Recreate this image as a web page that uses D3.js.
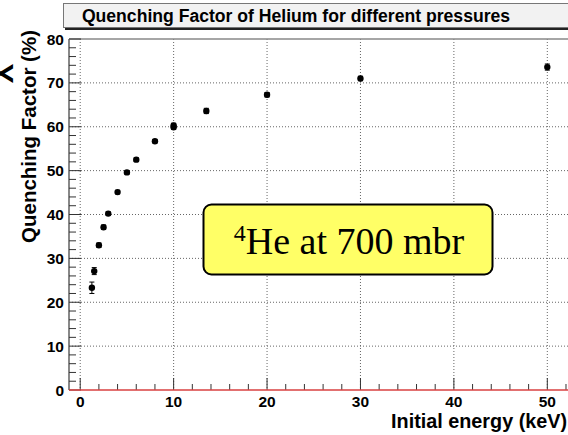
<!DOCTYPE html>
<html><head><meta charset="utf-8">
<script src="https://cdn.jsdelivr.net/npm/d3@7"></script>
<style>
html,body{margin:0;padding:0;background:#fff;overflow:hidden;}
svg{display:block;}
</style></head>
<body>
<svg id="chart" width="568" height="435"></svg>
<script>
// ---- data ----
const energies = [1.25, 1.5, 2, 2.5, 3, 4, 5, 6, 8, 10, 10, 13.5, 20, 30, 50];
const quenching = [23.3, 27.1, 33.0, 37.1, 40.2, 45.1, 49.6, 52.5, 56.7, 59.9, 60.3, 63.6, 67.3, 71.0, 73.6];
const errors = [1.3, 0.8, 0.5, 0.5, 0.4, 0.4, 0.4, 0.4, 0.4, 0.5, 0.5, 0.6, 0.5, 0.5, 0.7];
const xTickLabels = [0, 10, 20, 30, 40, 50];
const yTickLabels = [0, 10, 20, 30, 40, 50, 60, 70, 80];
const titleText = "Quenching Factor of Helium for different pressures";
const xTitle = "Initial energy (keV)";
const yTitle = "Quenching Factor (%)";

const svg = d3.select("#chart");
const L = 69, R = 580, T = 39, B = 390;
const x = d3.scaleLinear().domain([-1.2, 53.5]).range([L, R]);
const y = d3.scaleLinear().domain([0, 80]).range([B, T]);
const sans = "'Liberation Sans', Arial, Helvetica, sans-serif";

// title box
svg.append("rect").attr("x", 65).attr("y", 6).attr("width", 520).attr("height", 24).attr("fill", "#222");
svg.append("rect").attr("x", 63.5).attr("y", 3.5).attr("width", 520).attr("height", 24)
  .attr("fill", "#f2f2f2").attr("stroke", "#777").attr("stroke-width", 1);
svg.append("text").attr("x", 296).attr("y", 21.5).attr("text-anchor", "middle")
  .attr("font-family", sans).attr("font-weight", "bold").attr("font-size", 17.6)
  .attr("fill", "#000").text(titleText);

// grid
const g = svg.append("g");
g.selectAll(".vg").data(xTickLabels).enter().append("line")
  .attr("x1", d => x(d)).attr("x2", d => x(d)).attr("y1", T).attr("y2", B)
  .attr("stroke", "#666").attr("stroke-width", 1).attr("stroke-dasharray", "1,2");
g.selectAll(".hg").data(yTickLabels.filter(d => d > 0 && d < 80)).enter().append("line")
  .attr("x1", L).attr("x2", R).attr("y1", d => y(d)).attr("y2", d => y(d))
  .attr("stroke", "#666").attr("stroke-width", 1).attr("stroke-dasharray", "1,2");

// frame
svg.append("line").attr("x1", L).attr("x2", R).attr("y1", T).attr("y2", T).attr("stroke", "#888").attr("stroke-width", 1.5);
svg.append("line").attr("x1", L).attr("x2", L).attr("y1", T).attr("y2", B).attr("stroke", "#888").attr("stroke-width", 2);

// y ticks
const yMinor = d3.range(0, 80.1, 2);
svg.selectAll(".yt").data(yMinor).enter().append("line")
  .attr("x1", L).attr("x2", d => L + (d % 10 === 0 ? 12 : 7))
  .attr("y1", d => y(d)).attr("y2", d => y(d))
  .attr("stroke", "#333").attr("stroke-width", 1);
// x ticks
const xMinor = d3.range(0, 53, 2);
svg.selectAll(".xt").data(xMinor).enter().append("line")
  .attr("x1", d => x(d)).attr("x2", d => x(d))
  .attr("y1", B).attr("y2", d => B - (d % 10 === 0 ? 12 : 6))
  .attr("stroke", "#333").attr("stroke-width", 1);

// bottom axis line (red)
svg.append("line").attr("x1", L).attr("x2", R).attr("y1", B).attr("y2", B).attr("stroke", "#d94040").attr("stroke-width", 1.5);

// tick labels
svg.selectAll(".yl").data(yTickLabels).enter().append("text")
  .attr("x", 64).attr("y", d => y(d)).attr("dy", "0.36em").attr("text-anchor", "end")
  .attr("font-family", sans).attr("font-weight", "bold").attr("font-size", 15.5)
  .text(d => d);
svg.selectAll(".xl").data(xTickLabels).enter().append("text")
  .attr("x", d => x(d)).attr("y", 407).attr("text-anchor", "middle")
  .attr("font-family", sans).attr("font-weight", "bold").attr("font-size", 15.5)
  .text(d => d);

// axis titles
svg.append("text").attr("x", 567).attr("y", 428).attr("text-anchor", "end")
  .attr("font-family", sans).attr("font-weight", "bold").attr("font-size", 19.8).text(xTitle);
svg.append("text").attr("transform", "translate(36,30) rotate(-90)").attr("text-anchor", "end")
  .attr("font-family", sans).attr("font-weight", "bold").attr("font-size", 20.5).text(yTitle);
svg.append("text").attr("transform", "translate(-7,73.5) rotate(90)").attr("text-anchor", "middle")
  .attr("font-family", sans).attr("font-weight", "bold").attr("font-size", 30).text("Y");

// data
const pts = energies.map((e, i) => ({x: e, y: quenching[i], err: errors[i]}));
const dg = svg.append("g");
dg.selectAll(".eb").data(pts).enter().append("line")
  .attr("x1", d => x(d.x)).attr("x2", d => x(d.x))
  .attr("y1", d => y(d.y - d.err)).attr("y2", d => y(d.y + d.err))
  .attr("stroke", "#000").attr("stroke-width", 1);
dg.selectAll(".cap1").data(pts).enter().append("line")
  .attr("x1", d => x(d.x) - 2.5).attr("x2", d => x(d.x) + 2.5)
  .attr("y1", d => y(d.y - d.err)).attr("y2", d => y(d.y - d.err))
  .attr("stroke", "#000").attr("stroke-width", 1);
dg.selectAll(".cap2").data(pts).enter().append("line")
  .attr("x1", d => x(d.x) - 2.5).attr("x2", d => x(d.x) + 2.5)
  .attr("y1", d => y(d.y + d.err)).attr("y2", d => y(d.y + d.err))
  .attr("stroke", "#000").attr("stroke-width", 1);
dg.selectAll("circle").data(pts).enter().append("circle")
  .attr("cx", d => x(d.x)).attr("cy", d => y(d.y)).attr("r", 3.2).attr("fill", "#000");

// annotation box
svg.append("rect").attr("x", 203.5).attr("y", 204.5).attr("width", 289).attr("height", 70).attr("rx", 8).attr("ry", 8)
  .attr("fill", "#ffff66").attr("stroke", "#000").attr("stroke-width", 2);
const at = svg.append("text").attr("x", 349).attr("y", 254).attr("text-anchor", "middle")
  .attr("font-family", "'Liberation Serif', 'Times New Roman', serif").attr("fill", "#000");
at.append("tspan").attr("font-size", 24).attr("dy", -13).text("4");
at.append("tspan").attr("font-size", 38).attr("dy", 13).text("He at 700 mbr");
</script>
</body></html>
